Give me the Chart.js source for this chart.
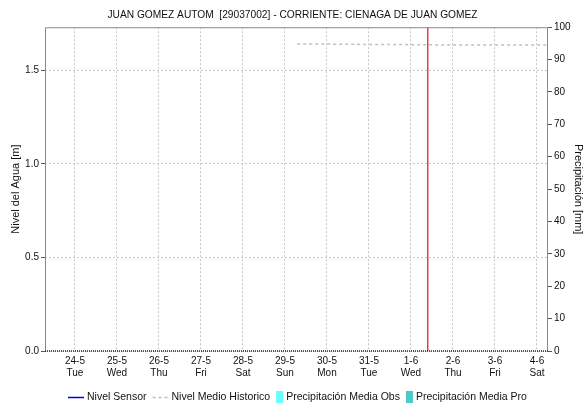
<!DOCTYPE html>
<html>
<head>
<meta charset="utf-8">
<script src="https://cdn.jsdelivr.net/npm/chart.js@4/dist/chart.umd.min.js"></script>
<style>
html,body{margin:0;padding:0;background:#fff;}
#wrap{width:585px;height:403px;position:relative;}
</style>
</head>
<body>
<div id="wrap"><canvas id="c" width="585" height="403"></canvas></div>
<script>
// ---- data ----
const dateLabels = ['24-5','25-5','26-5','27-5','28-5','29-5','30-5','31-5','1-6','2-6','3-6','4-6'];
const dayLabels  = ['Tue','Wed','Thu','Fri','Sat','Sun','Mon','Tue','Wed','Thu','Fri','Sat'];
// x in days since 24-5 00:00
const histX = [5.29, 6.0, 7.0, 8.0, 8.4, 9.0, 10.0, 11.26];
const histY = [1.640, 1.640, 1.638, 1.637, 1.636, 1.635, 1.635, 1.635];
const sensorX = [];
const sensorY = [];
const precipObs = [];
const precipPro = [];
const nowX = [8.4, 8.4];
const nowY = [0, 1.73];
const xMin = -0.714, xMax = 11.262;
const yMax = 1.73;

const toPts = (xs, ys) => xs.map((x, i) => ({x: x, y: ys[i]}));

// legend styles per dataset (kind, colour, dash)
const legendStyles = [
  {kind: 'line', color: '#0000ee', dash: null},
  {kind: 'line', color: '#c0c0c0', dash: [3, 3]},
  {kind: 'rect', color: '#66ffff'},
  {kind: 'rect', color: '#4cc9c9'}
];

const frame = {
  id: 'frame',
  afterDraw(chart) {
    const a = chart.chartArea, g = chart.ctx;
    g.save();
    g.strokeStyle = '#8a8a8a'; g.lineWidth = 1;
    g.beginPath();
    g.moveTo(a.left + 0.5, a.bottom); g.lineTo(a.left + 0.5, a.top + 0.5);
    g.lineTo(a.right - 0.5, a.top + 0.5); g.lineTo(a.right - 0.5, a.bottom);
    g.stroke();
    g.strokeStyle = '#222'; g.setLineDash([1, 1]); g.lineWidth = 1.5;
    g.beginPath(); g.moveTo(a.left, a.bottom); g.lineTo(a.right, a.bottom); g.stroke();
    g.restore();

    // custom legend
    const ds = chart.data.datasets.slice(0, 4);
    g.save();
    g.font = '10.5px "Liberation Sans", Arial, sans-serif';
    g.textBaseline = 'middle';
    const items = ds.map((d, i) => {
      const st = legendStyles[i];
      const iw = st.kind === 'line' ? 16 : 7;
      return {st, iw, text: d.label, tw: g.measureText(d.label).width};
    });
    const gapIconText = 3, gapItems = 6;
    let total = 0;
    items.forEach((it, i) => { total += it.iw + gapIconText + it.tw + (i < items.length - 1 ? gapItems : 0); });
    let x = Math.round((chart.width - total) / 2) + 5;
    const y = 397;
    items.forEach(it => {
      if (it.st.kind === 'line') {
        g.strokeStyle = it.st.color; g.lineWidth = 1.5;
        g.setLineDash(it.st.dash || []);
        g.beginPath(); g.moveTo(x, y + 0.5); g.lineTo(x + it.iw, y + 0.5); g.stroke();
        g.setLineDash([]);
      } else {
        g.fillStyle = it.st.color; g.fillRect(x, y - 6, it.iw, 12);
      }
      x += it.iw + gapIconText;
      g.fillStyle = '#111';
      g.fillText(it.text, x, y);
      x += it.tw + gapItems;
    });
    g.restore();
  }
};

Chart.defaults.font.family = '"Liberation Sans", Arial, sans-serif';
Chart.defaults.color = '#111';

new Chart(document.getElementById('c'), {
  type: 'line',
  data: {
    datasets: [
      {label: 'Nivel Sensor', data: toPts(sensorX, sensorY), borderColor: '#0000ee', borderWidth: 1.5, pointRadius: 0, yAxisID: 'y'},
      {label: 'Nivel Medio Historico', data: toPts(histX, histY), borderColor: '#c0c0c0', borderDash: [3, 3], borderWidth: 1.5, pointRadius: 0, yAxisID: 'y'},
      {type: 'bar', label: 'Precipitación Media Obs', data: precipObs, backgroundColor: '#66ffff', yAxisID: 'y1'},
      {type: 'bar', label: 'Precipitación Media Pro', data: precipPro, backgroundColor: '#4cc9c9', yAxisID: 'y1'},
      {label: 'now', data: toPts(nowX, nowY), borderColor: '#e01010', borderWidth: 1.2, pointRadius: 0, yAxisID: 'y'}
    ]
  },
  options: {
    responsive: false,
    animation: false,
    layout: {padding: {left: 0, right: 0, top: 0, bottom: 22}},
    plugins: {
      title: {display: true, text: 'JUAN GOMEZ AUTOM  [29037002] - CORRIENTE: CIENAGA DE JUAN GOMEZ',
              font: {size: 10.2, weight: 'normal'}, color: '#111', padding: {top: 9, bottom: 6}},
      legend: {display: false},
      tooltip: {enabled: false}
    },
    scales: {
      x: {
        type: 'linear', min: xMin, max: xMax, offset: false,
        afterBuildTicks(s) { s.ticks = dateLabels.map((_, i) => ({value: i})); },
        ticks: {
          autoSkip: false, maxRotation: 0, font: {size: 10}, color: '#111', padding: 4,
          callback(v) { const i = Math.round(v); return [dateLabels[i], dayLabels[i]]; }
        },
        grid: {color: '#c8c8c8', drawTicks: false, lineWidth: 1, offset: false},
        border: {display: false, dash: [2, 2]},
        afterFit(s) { s.height = 30; }
      },
      y: {
        position: 'left', min: 0, max: yMax,
        afterBuildTicks(s) { s.ticks = [0, 0.5, 1.0, 1.5].map(v => ({value: v})); },
        ticks: {font: {size: 10}, color: '#111', padding: 2, callback: v => v.toFixed(1)},
        grid: {color: '#c8c8c8', tickColor: '#555', tickLength: 4, lineWidth: 1},
        border: {display: false, dash: [2, 2]},
        title: {display: true, text: 'Nivel del Agua [m]', font: {size: 11}, color: '#111', padding: {top: 9, bottom: 0}},
        afterFit(s) { s.width = 45; }
      },
      y1: {
        position: 'right', min: 0, max: 100,
        ticks: {stepSize: 10, font: {size: 10}, color: '#111', padding: 2},
        grid: {drawOnChartArea: false, tickColor: '#555', tickLength: 4},
        border: {display: false},
        title: {display: true, text: 'Precipitación [mm]', font: {size: 11}, color: '#111', padding: {top: 0, bottom: 0}},
        afterFit(s) { s.width = 37; }
      }
    }
  },
  plugins: [frame]
});
</script>
</body>
</html>
